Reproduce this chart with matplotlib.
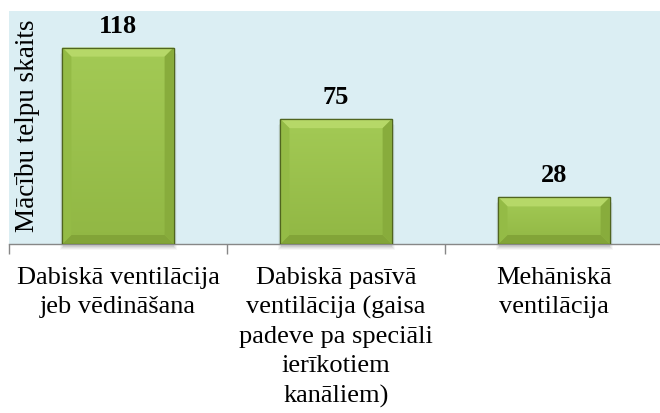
import matplotlib
matplotlib.use('Agg')
import matplotlib.pyplot as plt
import numpy as np
from matplotlib.patches import Polygon, Rectangle
from matplotlib.colors import LinearSegmentedColormap

# room counts by ventilation type
categories = ['Dabiskā ventilācija\njeb vēdināšana',
              'Dabiskā pasīvā\nventilācija (gaisa\npadeve pa speciāli\nierīkotiem\nkanāliem)',
              'Mehāniskā\nventilācija']
counts = [118, 75, 28]
ylabel = 'Mācību telpu skaits'

plt.rcParams['font.family'] = ['Liberation Serif', 'DejaVu Serif']

W, H, DPI = 660, 414, 100
fig = plt.figure(figsize=(W / DPI, H / DPI), dpi=DPI)
ax = fig.add_axes([9 / W, 169 / H, 651 / W, 233 / H])
ax.set_facecolor('#dbeef3')

x = np.arange(len(counts))
bars = ax.bar(x, counts, width=0.51, color='#9dc44d', edgecolor='#50651f',
              linewidth=0.9, zorder=3)
ax.set_xlim(-0.5, 2.486)
ax.set_ylim(0, 140)

# pixel -> data scale, used for bevel and shadow sizes
px_x = (ax.get_xlim()[1] - ax.get_xlim()[0]) / 651
px_y = (ax.get_ylim()[1] - ax.get_ylim()[0]) / 233

face = LinearSegmentedColormap.from_list('face', ['#91b744', '#a3ca55'])
grad = np.linspace(0, 1, 100).reshape(-1, 1)
bev = 9
for b in bars:
    x0, w, h = b.get_x(), b.get_width(), b.get_height()
    x1 = x0 + w
    bx, by = bev * px_x, bev * px_y
    # soft drop shadow under the bar
    for k, a in enumerate([0.10, 0.08, 0.06, 0.04]):
        s = ax.add_patch(Rectangle((x0 - (k - 1) * px_x, -(3 + k) * px_y),
                                   w + (2 * k - 1) * px_x, h,
                                   facecolor='#404040', edgecolor='none',
                                   alpha=a, zorder=2))
        s.set_clip_on(False)
    # vertical gradient for the face
    im = ax.imshow(grad, extent=(x0, x1, 0, h), origin='lower', cmap=face,
                   aspect='auto', zorder=3.1)
    im.set_clip_path(b)
    # bevel strips
    strips = [
        ([(x0, h), (x1, h), (x1 - bx, h - by), (x0 + bx, h - by)], '#b6d868'),
        ([(x0, 0), (x1, 0), (x1 - bx, by), (x0 + bx, by)], '#82a438'),
        ([(x0, 0), (x0, h), (x0 + bx, h - by), (x0 + bx, by)], '#94bb46'),
        ([(x1, 0), (x1, h), (x1 - bx, h - by), (x1 - bx, by)], '#88ac3c'),
    ]
    for pts, c in strips:
        ax.add_patch(Polygon(pts, closed=True, facecolor=c, edgecolor='none',
                             zorder=3.2))
    ax.add_patch(Rectangle((x0, 0), w, h, facecolor='none',
                           edgecolor='#50651f', linewidth=0.9, zorder=3.3))

for xi, v in zip(x, counts):
    ax.annotate(str(v), (xi, v), xytext=(0, 11.5), textcoords='offset points',
                ha='center', va='baseline', fontsize=19, fontweight='bold')

ax.set_xticks(x)
ax.set_xticklabels(categories, fontsize=19, linespacing=1.42)
ax.set_xticks([-0.5, 0.5, 1.5], minor=True)
ax.tick_params(axis='x', which='major', length=0, pad=15.5)
ax.tick_params(axis='x', which='minor', length=7, width=1, color='#878787')
ax.set_yticks([])
for side in ['left', 'top', 'right']:
    ax.spines[side].set_visible(False)
ax.spines['bottom'].set_color('#878787')
ax.spines['bottom'].set_linewidth(1)

ax.text(0.0277, 0.513, ylabel, rotation=90, transform=ax.transAxes,
        ha='center', va='center', fontsize=19.5)

fig.savefig('out.png', dpi=DPI)
